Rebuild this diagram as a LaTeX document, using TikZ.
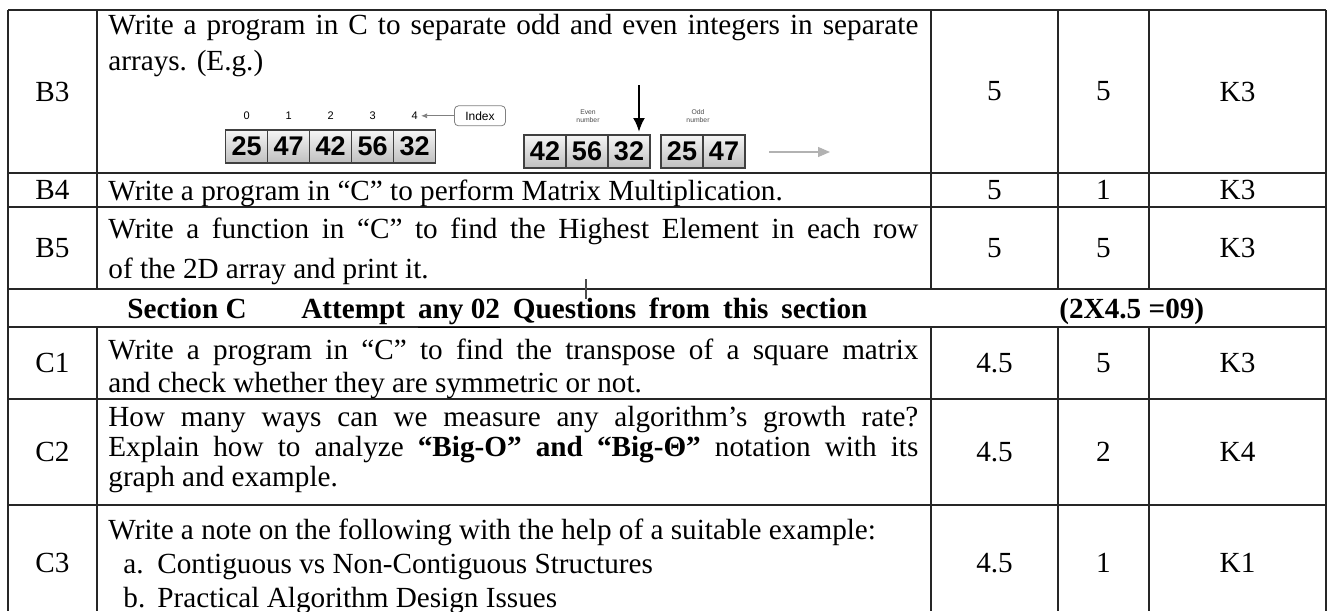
\documentclass[tikz,border=0pt]{standalone}
\usepackage{fontspec}
\setmainfont{Liberation Serif}
\newfontfamily\arrfont{Liberation Sans}
\usetikzlibrary{positioning,arrows.meta}

\begin{document}
\begin{tikzpicture}[
		x=0.5pt, y=-0.5pt,
		tline/.style={line width=1pt, black!85},
		qtext/.style={anchor=base west, inner sep=0pt, text width=405pt, align=justify, font=\fontsize{14.6}{16.5}\selectfont},
		numtext/.style={inner sep=0pt, font=\fontsize{14.6}{16.5}\selectfont},
		sechead/.style={anchor=base west, inner sep=0pt, font=\bfseries\fontsize{14.6}{16.5}\selectfont},
		cell/.style={draw=black!75, line width=0.6pt, outer sep=0pt, inner sep=0pt, top color=gray!8, bottom color=gray!50, minimum width=21pt, minimum height=16.5pt, font=\arrfont\bfseries\fontsize{13.5}{14}\selectfont},
		idx/.style={inner sep=0pt, font=\arrfont\fontsize{5.5}{6}\selectfont},
		ibox/.style={draw=gray, rounded corners=2pt, inner sep=0pt, minimum width=25.5pt, minimum height=10pt, font=\arrfont\fontsize{6}{7}\selectfont},
		lbl/.style={align=center, inner sep=0pt, text=black!70, font=\arrfont\fontsize{3.4}{3.8}\selectfont},
		arr/.style={-{Latex[length=7pt, width=6pt]}, line width=1.2pt},
		idxarr/.style={-{Latex[length=3pt, width=2.5pt]}, gray, line width=0.4pt, shorten >=1.5pt},
		rarr/.style={-{Triangle[length=6pt, width=5pt]}, gray!60, line width=0.6pt}
	]
	\useasboundingbox (0,0) rectangle (1328,611);
	\fill[white] (0,0) rectangle (1328,611);
	\clip (0,0) rectangle (1328,611);
	
	\draw[tline] (8,10) -- (1326,10);
	\draw[tline] (8,173) -- (1326,173);
	\draw[tline] (8,207) -- (1326,207);
	\draw[tline] (8,289) -- (1326,289);
	\draw[tline] (8,327) -- (1326,327);
	\draw[tline] (8,399) -- (1326,399);
	\draw[tline] (8,505) -- (1326,505);
	\draw[tline] (8,10) -- (8,611);
	\draw[tline] (1326,10) -- (1326,611);
	\draw[tline] (97,10) -- (97,289) (97,327) -- (97,611);
	\draw[tline] (931,10) -- (931,289) (931,327) -- (931,611);
	\draw[tline] (1058,10) -- (1058,289) (1058,327) -- (1058,611);
	\draw[tline] (1149,10) -- (1149,289) (1149,327) -- (1149,611);
	\draw[black!70, line width=0.6pt] (586,279) -- (586,299);
	
	\node[numtext] (b3) at (52.5,91.5) {B3};
	\node[qtext, font=\fontsize{14.6}{18}\selectfont] (b3q) at (108,34) {Write a program in C to separate odd and even integers in separate\linebreak arrays. (E.g.)};
	\node[numtext] (b3m) at (994.5,91.5) {5};
	\node[numtext] (b3c) at (1103.5,91.5) {5};
	\node[numtext] (b3k) at (1237.5,91.5) {K3};
	
	\node[cell] (a1) at (246.6,146.5) {25};
	\node[cell, right=0pt of a1] (a2) {47};
	\node[cell, right=0pt of a2] (a3) {42};
	\node[cell, right=0pt of a3] (a4) {56};
	\node[cell, right=0pt of a4] (a5) {32};
	\node[idx, above=5pt of a1] (i0) {0};
	\node[idx, above=5pt of a2] (i1) {1};
	\node[idx, above=5pt of a3] (i2) {2};
	\node[idx, above=5pt of a4] (i3) {3};
	\node[idx, above=5pt of a5] (i4) {4};
	\node[ibox, right=18pt of i4] (ibox) {Index};
	\draw[idxarr] (ibox) -- (i4);
	
	\node[lbl] (even) at (588,116) {Even\\number};
	\node[lbl] (odd) at (698,116) {Odd\\number};
	\node[cell] (e1) at (545,151.5) {42};
	\node[cell, right=0pt of e1] (e2) {56};
	\node[cell, right=0pt of e2] (e3) {32};
	\node[cell] (o1) at (682,151.5) {25};
	\node[cell, right=0pt of o1] (o2) {47};
	\coordinate (dtop) at (639,85);
	\coordinate (dtip) at (639,132);
	\draw[arr] (dtop) -- (dtip);
	\coordinate (rbeg) at (769,152);
	\coordinate (rend) at (830,152);
	\draw[rarr] (rbeg) -- (rend);
	
	\node[numtext] (b4) at (52.5,190) {B4};
	\node[qtext] (b4q) at (108,200) {Write a program in “C” to perform Matrix Multiplication.};
	\node[numtext] (b4m) at (994.5,190) {5};
	\node[numtext] (b4c) at (1103.5,190) {1};
	\node[numtext] (b4k) at (1237.5,190) {K3};
	
	\node[numtext] (b5) at (52.5,248) {B5};
	\node[qtext, font=\fontsize{14.6}{20}\selectfont] (b5q) at (108,238) {Write a function in “C” to find the Highest Element in each row\linebreak of the 2D array and print it.};
	\node[numtext] (b5m) at (994.5,248) {5};
	\node[numtext] (b5c) at (1103.5,248) {5};
	\node[numtext] (b5k) at (1237.5,248) {K3};
	
	\node[sechead] (sec) at (127,318) {Section C};
	\node[sechead] (att) at (301,318) {\makebox[283pt][s]{Attempt \underline{any 02} Questions from this section}};
	\node[sechead] (tot) at (1059,318) {(2X4.5 =09)};
	
	\node[numtext] (c1) at (52.5,363) {C1};
	\node[qtext] (c1q) at (108,359) {Write a program in “C” to find the transpose of a square matrix\linebreak and check whether they are symmetric or not.};
	\node[numtext] (c1m) at (994.5,363) {4.5};
	\node[numtext] (c1c) at (1103.5,363) {5};
	\node[numtext] (c1k) at (1237.5,363) {K3};
	
	\node[numtext] (c2) at (52.5,452) {C2};
	\node[qtext, font=\fontsize{14.6}{15}\selectfont] (c2q) at (108,426) {How many ways can we measure any algorithm's growth rate?\linebreak Explain how to analyze \textbf{“Big-O” and “Big-Θ”} notation with its\linebreak graph and example.};
	\node[numtext] (c2m) at (994.5,452) {4.5};
	\node[numtext] (c2c) at (1103.5,452) {2};
	\node[numtext] (c2k) at (1237.5,452) {K4};
	
	\node[numtext] (c3) at (52.5,563) {C3};
	\node[qtext, font=\fontsize{14.6}{17}\selectfont] (c3q) at (108,539) {Write a note on the following with the help of a suitable example:\\ \hspace*{7.5pt}\makebox[17pt][l]{a.}Contiguous vs Non-Contiguous Structures\\ \hspace*{7.5pt}\makebox[17pt][l]{b.}Practical Algorithm Design Issues};
	\node[numtext] (c3m) at (994.5,563) {4.5};
	\node[numtext] (c3c) at (1103.5,563) {1};
	\node[numtext] (c3k) at (1237.5,563) {K1};
\end{tikzpicture}
\end{document}
